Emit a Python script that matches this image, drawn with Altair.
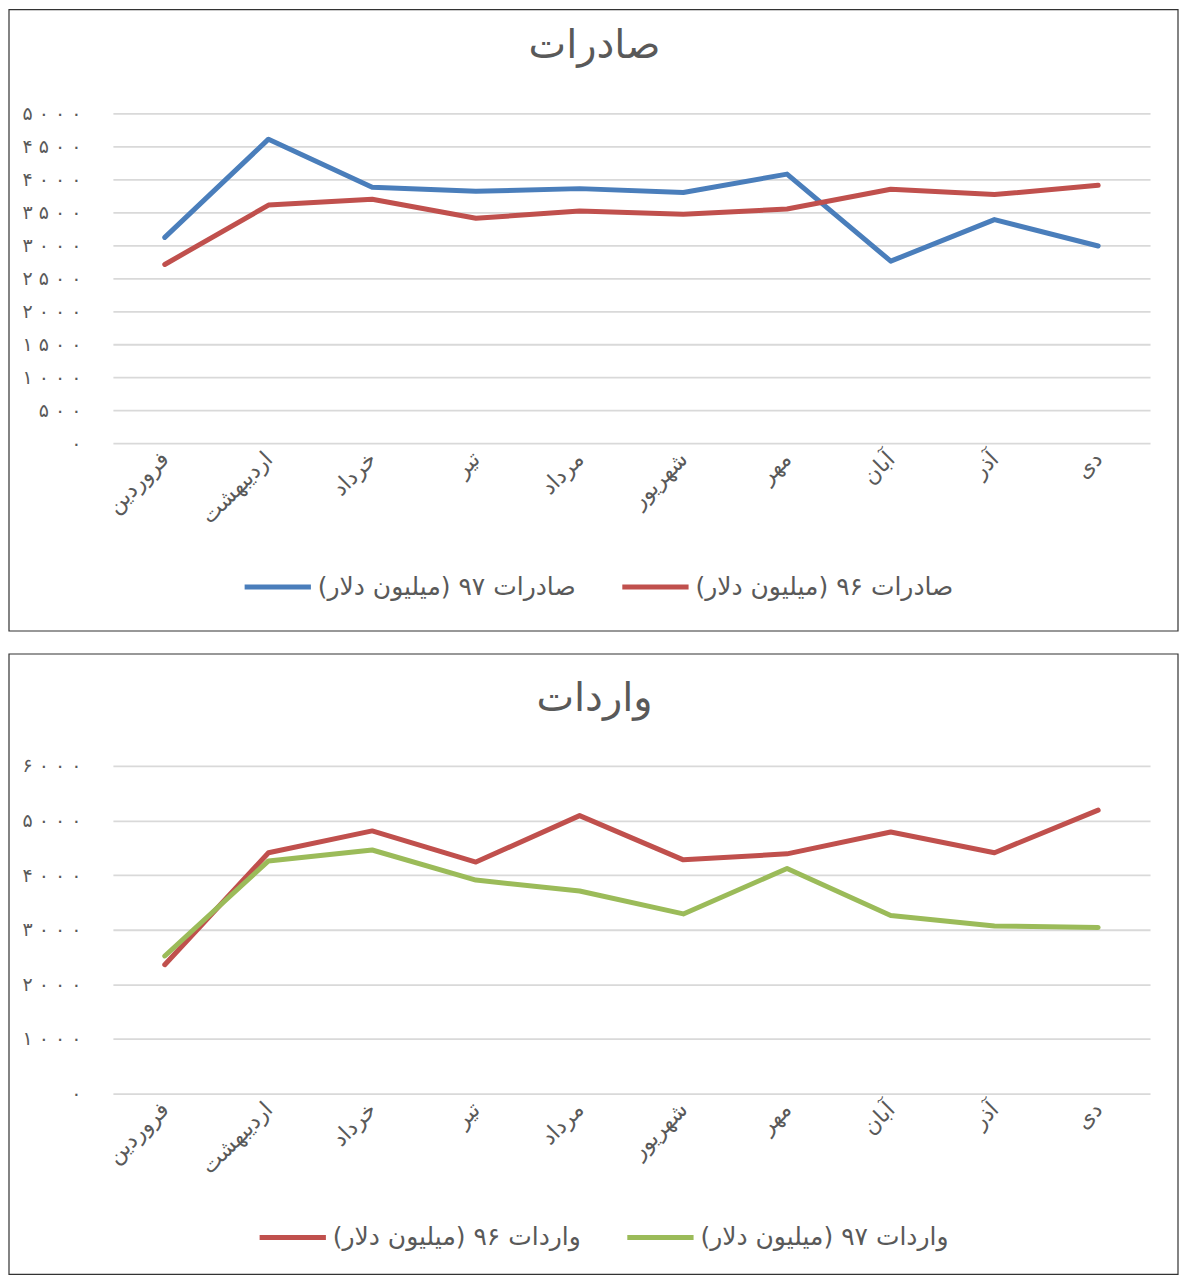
import altair as alt
import pandas as pd

months = ['فروردین', 'اردیبهشت', 'خرداد', 'تیر', 'مرداد', 'شهریور', 'مهر', 'آبان', 'آذر', 'دی']

exp_title = 'صادرات'
exp97_name = 'صادرات ۹۷ (میلیون دلار)\u200f'
exp96_name = 'صادرات ۹۶ (میلیون دلار)\u200f'
exp97 = [3120, 4610, 3880, 3820, 3860, 3800, 4080, 2760, 3390, 2990]
exp96 = [2710, 3610, 3700, 3410, 3520, 3470, 3550, 3850, 3770, 3910]

imp_title = 'واردات'
imp96_name = 'واردات ۹۶ (میلیون دلار)\u200f'
imp97_name = 'واردات ۹۷ (میلیون دلار)\u200f'
imp96 = [2360, 4410, 4810, 4240, 5090, 4280, 4390, 4790, 4410, 5190]
imp97 = [2520, 4260, 4460, 3910, 3710, 3290, 4120, 3260, 3070, 3040]

exp_ticks = list(range(0, 5001, 500))
imp_ticks = list(range(0, 6001, 1000))

FONT = 'DejaVu Sans'
GRAY = '#595959'
BLUE = '#4A7EBB'
RED = '#C0504D'
GREEN = '#9BBB59'

digits = '۰۱۲۳۴۵۶۷۸۹'
expr = 'toString(datum.value)'
for i, d in enumerate(digits):
    expr = f"replace({expr}, regexp('{i}', 'g'), '{d}')"
expr = f"replace({expr}, regexp('(.)(?=.)', 'g'), '$1 ')"


def panel(title, names, series, colors, ticks, height, rect_top, rect_bottom, legend_x, legend_y):
    rows = []
    for name, vals in zip(names, series):
        for m, v in zip(months, vals):
            rows.append({'month': m, 'value': v, 'series': name})
    df = pd.DataFrame(rows)

    border = alt.Chart(alt.Data(values=[{}])).mark_rect(
        fillOpacity=0, stroke='#333333', strokeWidth=1.2
    ).encode(
        x=alt.value(-104), x2=alt.value(1066),
        y=alt.value(rect_top), y2=alt.value(rect_bottom)
    )

    ttl = alt.Chart(alt.Data(values=[{'t': title}])).mark_text(
        font=FONT, fontSize=40, color=GRAY, align='center', baseline='alphabetic'
    ).encode(
        x=alt.value(482), y=alt.value(-55), text='t:N'
    )

    lines = alt.Chart(df).mark_line(
        strokeWidth=5, strokeCap='round', strokeJoin='round'
    ).encode(
        x=alt.X('month:N', sort=months, scale=alt.Scale(padding=0.5),
                axis=alt.Axis(title=None, labelAngle=-45, labelAlign='right',
                              labelBaseline='middle', labelFont=FONT, labelFontSize=22,
                              labelColor=GRAY, ticks=False, domain=False,
                              labelPadding=12, grid=False)),
        y=alt.Y('value:Q', scale=alt.Scale(domain=[ticks[0], ticks[-1]], nice=False),
                axis=alt.Axis(title=None, values=ticks, labelExpr=expr, labelFont=FONT,
                              labelFontSize=19, labelColor=GRAY, ticks=False,
                              domain=False, labelPadding=32, grid=True,
                              gridColor='#D9D9D9', gridWidth=1.8)),
        color=alt.Color('series:N', sort=names,
                        scale=alt.Scale(domain=names, range=colors),
                        legend=alt.Legend(title=None, orient='none', direction='horizontal',
                                          legendX=legend_x, legendY=legend_y,
                                          symbolType='stroke', symbolStrokeWidth=5,
                                          symbolSize=4400, labelFont=FONT, labelFontSize=25,
                                          labelColor=GRAY, columnPadding=35,
                                          labelOffset=4, labelLimit=400)),
        order=alt.Order('series:N')
    )

    return alt.layer(border, ttl, lines).properties(width=1038, height=height)


top = panel(exp_title, [exp97_name, exp96_name], [exp97, exp96], [BLUE, RED],
            exp_ticks, 330, -104, 518, 129, 438)
bottom = panel(imp_title, [imp96_name, imp97_name], [imp96, imp97], [RED, GREEN],
               imp_ticks, 328, -112, 509, 144, 436)

chart = alt.vconcat(top, bottom, spacing=21).resolve_scale(
    color='independent', y='independent', x='independent'
).configure(
    padding=0, background='white'
).configure_view(stroke=None)

chart.save('out.html', embed_options={'renderer': 'svg', 'actions': False})
